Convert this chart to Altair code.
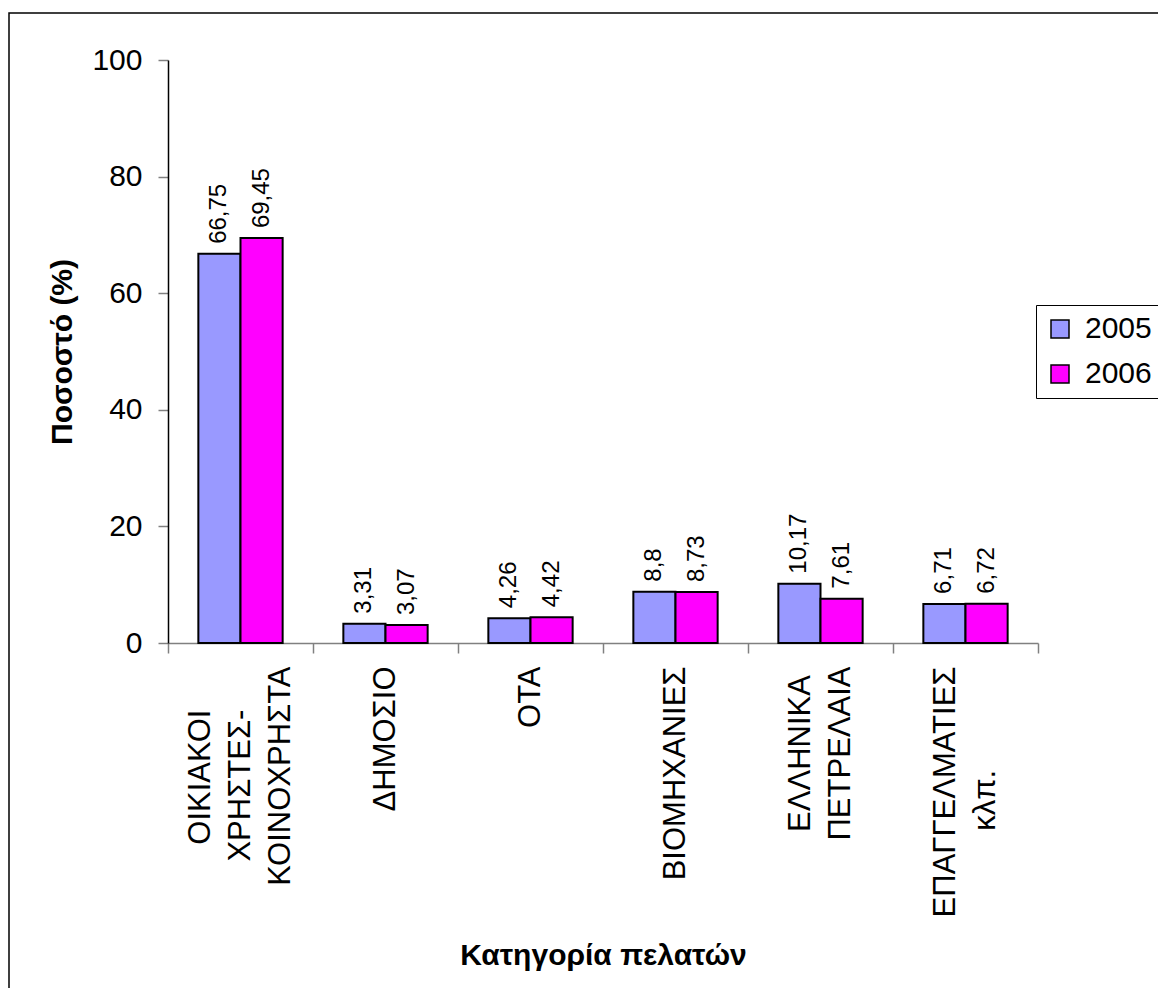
import altair as alt
import pandas as pd

FONT = "Liberation Sans, Arial, sans-serif"
NB = "\u00a0"
ZW = "\u200b"  # keeps the non-breaking padding from being trimmed


def pad(s, n):
    return s + NB * n + ZW


categories = [
    pad("ΟΙΚΙΑΚΟΙ", 5) + "|" + pad("ΧΡΗΣΤΕΣ-", 5) + "|ΚΟΙΝΟΧΡΗΣΤΑ",
    "ΔΗΜΟΣΙΟ",
    "ΟΤΑ",
    "ΒΙΟΜΗΧΑΝΙΕΣ",
    pad("ΕΛΛΗΝΙΚΑ", 1) + "|ΠΕΤΡΕΛΑΙΑ",
    "ΕΠΑΓΓΕΛΜΑΤΙΕΣ|" + pad("κλπ.", 12),
]
years = ["2005", "2006"]
values_2005 = [66.75, 3.31, 4.26, 8.8, 10.17, 6.71]
values_2006 = [69.45, 3.07, 4.42, 8.73, 7.61, 6.72]
colors = ["#9999FF", "#FF00FF"]
y_ticks = [0, 20, 40, 60, 80, 100]

rows = []
for yr, vals in zip(years, [values_2005, values_2006]):
    for c, v in zip(categories, vals):
        rows.append({"cat": c, "year": yr, "value": v,
                     "label": str(v).replace(".", ",")})
df = pd.DataFrame(rows)

nlines = "length(split(datum.label, '|'))"
x_axis = alt.Axis(
    tickBand="extent", labelAngle=270, labelAlign="right", labelBaseline="middle",
    labelFontSize=31, labelFont=FONT, labelColor="black", labelLineHeight=40,
    labelPadding=13, labelLimit=1000, labelOverlap=False,
    labelExpr="split(datum.label, '|')",
    labelOffset={
        "condition": [
            {"test": nlines + " == 3", "value": -40},
            {"test": nlines + " == 2", "value": -20},
        ],
        "value": 0,
    },
    domainColor="#808080", domainWidth=1.5, tickColor="#808080", tickWidth=1.5,
    tickSize=10, grid=False,
    titleFontSize=30, titleFont=FONT, titleFontWeight="bold", titleColor="black",
    titleBaseline="top", titleY=297,
)
y_axis = alt.Axis(
    values=y_ticks, labelFontSize=30, labelFont=FONT, labelColor="black",
    labelPadding=16, domainColor="black", domainWidth=1.5, tickColor="#808080",
    tickWidth=1.5, tickSize=10, grid=False,
    titleFontSize=30, titleFont=FONT, titleFontWeight="bold", titleColor="black",
    titlePadding=14,
)

x_enc = alt.X("cat:N", sort=categories,
              scale=alt.Scale(paddingInner=0, paddingOuter=0),
              axis=x_axis, title="Κατηγορία πελατών")
xoff_enc = alt.XOffset("year:N", sort=years,
                       scale=alt.Scale(paddingInner=0, paddingOuter=0.72))
y_enc = alt.Y("value:Q", scale=alt.Scale(domain=[0, 100], nice=False),
              axis=y_axis, title="Ποσοστό (%)")

bars = alt.Chart(df).mark_bar(stroke="black", strokeWidth=2, opacity=1).encode(
    x=x_enc,
    xOffset=xoff_enc,
    y=y_enc,
    color=alt.Color(
        "year:N",
        scale=alt.Scale(domain=years, range=colors),
        title=None,
        legend=alt.Legend(
            orient="none", legendX=868, legendY=245,
            symbolType="square", symbolSize=324, symbolStrokeColor="black",
            symbolStrokeWidth=1.5, symbolOpacity=1,
            labelFontSize=30, labelFont=FONT, labelColor="black", labelOffset=10,
            padding=9, rowPadding=15, strokeColor="black", fillColor="white",
        ),
    ),
)

texts = alt.Chart(df).mark_text(
    angle=270, align="left", baseline="middle", dx=10,
    fontSize=24, font=FONT, color="black",
).encode(
    x=alt.X("cat:N", sort=categories),
    xOffset=alt.XOffset("year:N", sort=years),
    y=alt.Y("value:Q"),
    text="label:N",
)

frame = alt.Chart(pd.DataFrame({"k": [0]})).mark_rect(
    fillOpacity=0, stroke="black", strokeWidth=1.5
).encode(
    x=alt.value(-159), x2=alt.value(1400), y=alt.value(-47), y2=alt.value(1400)
)

chart = alt.layer(frame, bars, texts).properties(
    width=870, height=583,
    padding={"left": 160, "top": 52, "right": 120, "bottom": 345},
    autosize=alt.AutoSizeParams(type="none"),
    background="white",
).configure_view(strokeWidth=0)

chart.save("out.html", embed_options={"renderer": "svg", "actions": False})
